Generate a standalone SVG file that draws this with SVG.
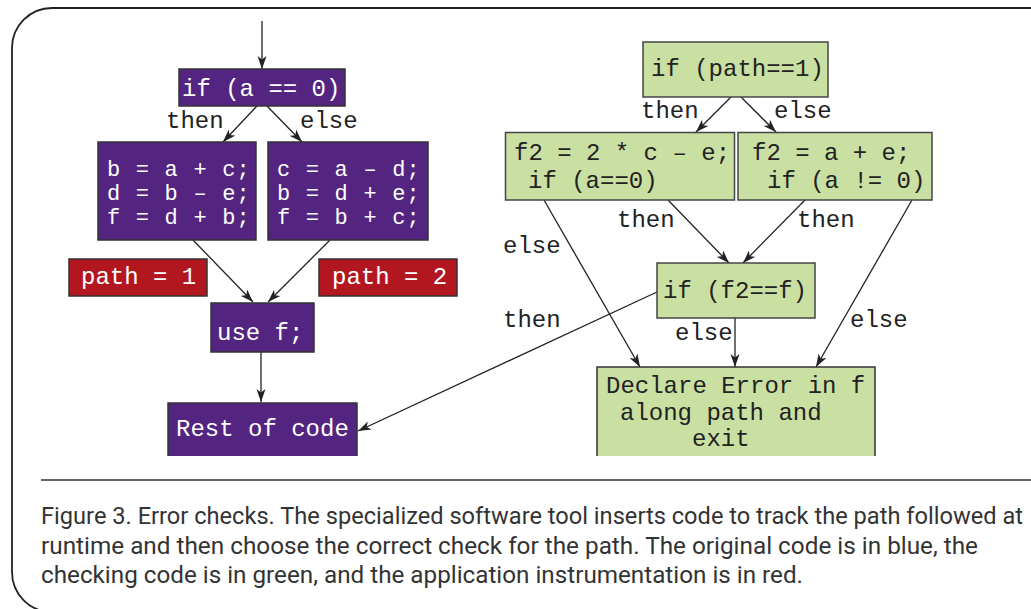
<svg xmlns="http://www.w3.org/2000/svg" width="1031" height="609" viewBox="0 0 1031 609">
<style>
.bg{fill:#ffffff}
.frame{fill:none;stroke:#222;stroke-width:1.8}
.pur{fill:#532581;stroke:#333;stroke-width:1.5}
.red{fill:#B2171F;stroke:#333;stroke-width:1.5}
.grn{fill:#C9E0A2;stroke:#444;stroke-width:1.5}
.purf{fill:#532581;stroke:none}
.grnf{fill:#C9E0A2;stroke:none}
.edge{fill:none;stroke:#333;stroke-width:1.5}
.code{font-family:"Liberation Mono","Courier New",monospace;font-size:24px}
.tight{font-size:22px;letter-spacing:1.2px}
.w{fill:#ffffff}
.k{fill:#222222}
.lbl{font-family:"Liberation Mono","Courier New",monospace;font-size:24px;fill:#222}
.conn{fill:none;stroke:#222;stroke-width:1.3}
.cap{font-family:Roboto,"Open Sans",sans-serif;font-size:23.5px;fill:#333}
</style>
<defs>
<marker id="ah" markerUnits="userSpaceOnUse" markerWidth="14" markerHeight="10" refX="13" refY="5" orient="auto">
<path d="M0,0.5 L13,5 L0,9.5 L3.5,5 Z" fill="#222"/>
</marker>
</defs>
<rect class="bg" x="0" y="0" width="1031" height="609"/>
<path class="frame" d="M1032,8 H52 A40,40 0 0 0 12,48 V572 A40,40 0 0 0 52,612 H1032"/>

<g id="connectors">
<line class="conn" x1="262" y1="21" x2="262" y2="69" marker-end="url(#ah)"/>
<line class="conn" x1="257" y1="106" x2="223" y2="142" marker-end="url(#ah)"/>
<line class="conn" x1="267" y1="106" x2="302" y2="142" marker-end="url(#ah)"/>
<line class="conn" x1="193" y1="240" x2="253" y2="302" marker-end="url(#ah)"/>
<line class="conn" x1="330" y1="240" x2="268" y2="302" marker-end="url(#ah)"/>
<line class="conn" x1="261" y1="352" x2="261" y2="402" marker-end="url(#ah)"/>
<line class="conn" x1="731" y1="97" x2="696" y2="132" marker-end="url(#ah)"/>
<line class="conn" x1="741" y1="97" x2="776" y2="132" marker-end="url(#ah)"/>
<line class="conn" x1="668" y1="200" x2="729" y2="263" marker-end="url(#ah)"/>
<line class="conn" x1="805" y1="200" x2="743" y2="263" marker-end="url(#ah)"/>
<line class="conn" x1="544" y1="200" x2="640" y2="367" marker-end="url(#ah)"/>
<line class="conn" x1="912" y1="200" x2="816" y2="367" marker-end="url(#ah)"/>
<line class="conn" x1="735" y1="318" x2="735" y2="367" marker-end="url(#ah)"/>
<line class="conn" x1="657" y1="292" x2="358" y2="431" marker-end="url(#ah)"/>
<text class="lbl" x="166" y="128">then</text>
<text class="lbl" x="300" y="128">else</text>
<text class="lbl" x="641" y="118">then</text>
<text class="lbl" x="774" y="118">else</text>
<text class="lbl" x="617" y="227">then</text>
<text class="lbl" x="797" y="227">then</text>
<text class="lbl" x="503" y="253">else</text>
<text class="lbl" x="503" y="327">then</text>
<text class="lbl" x="675" y="340">else</text>
<text class="lbl" x="850" y="327">else</text>
</g>

<g id="n-if-a">
<rect class="pur" x="179" y="69" width="166" height="37"/>
<text class="code w" x="182" y="96">if (a == 0)</text>
</g>
<g id="n-then-block">
<rect class="pur" x="98" y="142" width="158" height="98"/>
<text class="code tight w" x="107" y="176">b = a + c;</text>
<text class="code tight w" x="107" y="200">d = b – e;</text>
<text class="code tight w" x="107" y="224">f = d + b;</text>
</g>
<g id="n-else-block">
<rect class="pur" x="268" y="142" width="160" height="98"/>
<text class="code tight w" x="277" y="176">c = a – d;</text>
<text class="code tight w" x="277" y="200">b = d + e;</text>
<text class="code tight w" x="277" y="224">f = b + c;</text>
</g>
<g id="n-path1">
<rect class="red" x="69" y="259" width="138" height="37"/>
<text class="code w" x="81" y="284">path = 1</text>
</g>
<g id="n-path2">
<rect class="red" x="319" y="259" width="138" height="37"/>
<text class="code w" x="332" y="284">path = 2</text>
</g>
<g id="n-use-f">
<rect class="pur" x="211" y="303" width="103" height="49"/>
<text class="code w" x="217" y="340">use f;</text>
</g>
<g id="n-rest">
<rect class="purf" x="168" y="403" width="189" height="53"/>
<path class="edge" d="M168,456 V403 H357 V456"/>
<text class="code w" x="176" y="436">Rest of code</text>
</g>

<g id="n-if-path">
<rect class="grn" x="643" y="42" width="185" height="55"/>
<text class="code k" x="651" y="76">if (path==1)</text>
</g>
<g id="n-check1">
<rect class="grn" x="505.5" y="132.5" width="229" height="67.5"/>
<text class="code k" x="514" y="160">f2 = 2 * c – e;</text>
<text class="code k" x="528" y="188">if (a==0)</text>
</g>
<g id="n-check2">
<rect class="grn" x="738" y="132.5" width="194" height="67.5"/>
<text class="code k" x="752" y="160">f2 = a + e;</text>
<text class="code k" x="767" y="188">if (a != 0)</text>
</g>
<g id="n-if-f2">
<rect class="grn" x="657" y="263" width="158" height="55"/>
<text class="code k" x="663" y="298">if (f2==f)</text>
</g>
<g id="n-error">
<rect class="grnf" x="597" y="367" width="278" height="89"/>
<path class="edge" d="M597,456 V367 H875 V456"/>
<text class="code k" x="606" y="393">Declare Error in f</text>
<text class="code k" x="620" y="420">along path and</text>
<text class="code k" x="692" y="446">exit</text>
</g>

<g id="caption">
<line x1="41" y1="480" x2="1031" y2="480" stroke="#333" stroke-width="1.5"/>
<text class="cap" x="41" y="524" textLength="982" lengthAdjust="spacingAndGlyphs">Figure 3. Error checks. The specialized software tool inserts code to track the path followed at</text>
<text class="cap" x="41" y="554" textLength="937" lengthAdjust="spacingAndGlyphs">runtime and then choose the correct check for the path. The original code is in blue, the</text>
<text class="cap" x="41" y="583" textLength="762" lengthAdjust="spacingAndGlyphs">checking code is in green, and the application instrumentation is in red.</text>
</g>
</svg>
